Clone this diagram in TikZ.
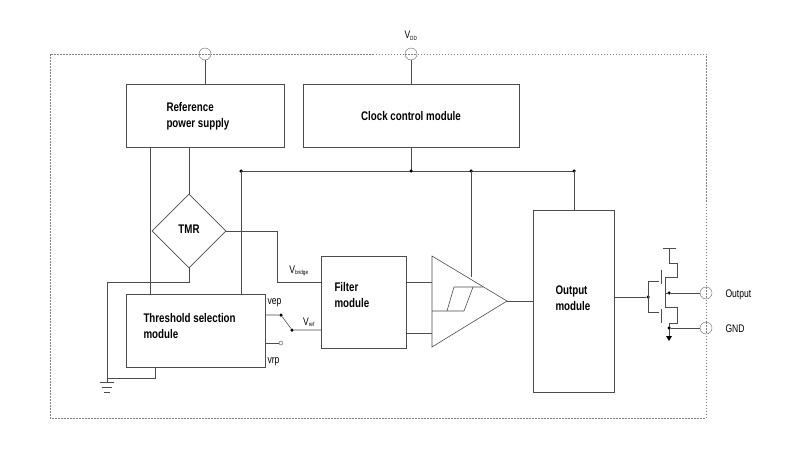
\documentclass[tikz,border=0pt]{standalone}
\usepackage{fontspec}
\setmainfont{Liberation Sans}[FakeStretch=0.78]
\usetikzlibrary{shapes.geometric}
\begin{document}
\begin{tikzpicture}[x=1pt,y=-1pt,
  wire/.style={draw=black!70,line width=0.6pt},
  blk/.style={draw=black!70,line width=0.6pt,fill=white},
  bt/.style={font=\bfseries\fontsize{12.5}{16}\selectfont,align=left},
  lt/.style={font=\fontsize{11}{12}\selectfont},
  pin/.style={circle,draw=black!60,fill=white,minimum size=12pt,inner sep=0},
  dotn/.style={circle,fill=black,minimum size=3.5pt,inner sep=0}]
\useasboundingbox (0,0) rectangle (800,450);
% border
\draw[black!50,dash pattern=on 1.5pt off 1.5pt,line width=0.4pt] (50,54) rectangle (706,418);
% pins
\node[pin] (p1) at (205,54) {};
\node[pin] (vdd) at (411,54) {};
\node[lt] at (411,36) {V\textsubscript{\fontsize{6}{7}\selectfont DD}};
\draw[black!50,dash pattern=on 1.5pt off 1.5pt] (199,54)--(211,54) (405,54)--(417,54);
% boxes
\draw[blk] (126,84) rectangle (284,147);
\node[bt,anchor=west] (rps) at (163,116) {Reference\\power supply};
\draw[blk] (303,84) rectangle (519,147);
\node[bt] (ccm) at (411,116) {Clock control module};
\draw[wire] (p1.south)--(205,84);
\draw[wire] (vdd.south)--(411,84);
% bus
\coordinate (b1) at (241,171); \coordinate (b2) at (411,171);
\coordinate (b3) at (471,171); \coordinate (b4) at (574,171);
\draw[wire] (411,147)--(b2);
\draw[wire] (b1)--(b4);
\foreach \b in {b1,b2,b3,b4} \node[dotn] at (\b) {};
% threshold box
\draw[blk] (126,294) rectangle (265,367);
\node[bt,anchor=west] (ths) at (140,326) {Threshold selection\\module};
\draw[wire] (150,147)--(150,294);
\draw[wire] (b1)--(241,294);
% TMR
\node[diamond,draw=black!70,line width=0.6pt,minimum width=74pt,minimum height=74pt,inner sep=0,fill=white] (tmr) at (189,231) {};
\node[bt] at (189,229) {TMR};
\draw[wire] (189,147)--(tmr.north);
\draw[wire] (tmr.south)--(189,282)--(107,282)--(107,382);
\draw[wire] (155,367)--(155,378)--(107,378);
\draw[wire] (100,382)--(114,382) (102,387)--(112,387) (104,392)--(110,392);
% filter
\draw[blk] (321,256) rectangle (406,348);
\node[bt,anchor=west] (flt) at (331,295) {Filter\\module};
\draw[wire] (tmr.east)--(277,231)--(277,282)--(321,282);
\node[lt,anchor=base] at (299,273) {V\textsubscript{\fontsize{6}{7}\selectfont bridge}};
% switch
\node[lt,anchor=west] at (264,303) {vep};
\node[lt,anchor=west] at (264,362) {vrp};
\node[dotn] (s1) at (281,315) {};
\node[dotn] (s2) at (292,330) {};
\draw[wire] (265,315)--(s1) (s1)--(s2) (s2)--(321,330);
\draw[wire] (265,343)--(279,343);
\node[circle,draw=black!70,inner sep=0,minimum size=4pt] (s3) at (281,343) {};
\node[lt,anchor=base] at (309,325) {V\textsubscript{\fontsize{6}{7}\selectfont ref}};
% comparator
\draw[wire] (406,282)--(432,282) (406,333)--(432,333);
\draw[blk] (432,256)--(507,301)--(432,347)--cycle;
\draw[wire] (432,311)--(464,311)--(473,287)--(483,287);
\draw[wire] (447,311)--(454,287)--(473,287);
\draw[wire] (b3)--(471,277);
% output module
\draw[blk] (533,210) rectangle (614,392);
\node[bt,anchor=west] (om) at (552,298) {Output\\module};
\draw[wire] (507,301)--(533,301);
\draw[wire] (b4)--(574,210);
% transistors
\node[dotn] (g) at (648,297) {};
\draw[wire] (614,297)--(g);
\draw[wire] (648,281)--(648,312);
\draw[wire] (648,281)--(659,281) (648,312)--(659,312);
\draw[wire] (661,270)--(661,284) (661,309)--(661,323);
\draw[wire] (663,248)--(676,248) (669,248)--(669,263)--(677,263)--(677,277)--(665,277)--(665,298);
\draw[wire] (665,307)--(677,307)--(677,323)--(669,323)--(669,337);
\node[dotn] (on) at (669,293) {};
\node[dotn] (gn) at (669,328) {};
\draw[wire] (665,293)--(669,293) (665,298)--(665,307);
\fill (666,336)--(672,336)--(669,341)--cycle;
\node[pin] (po) at (706,293) {};
\node[pin] (pg) at (706,328) {};
\draw[black!50,dash pattern=on 1.5pt off 1.5pt] (706,287)--(706,299) (706,322)--(706,334);
\draw[wire] (on)--(po.west) (gn)--(pg.west);
\node[lt,anchor=west] at (722,295) {Output};
\node[lt,anchor=west] at (722,329) {GND};
\end{tikzpicture}
\end{document}
